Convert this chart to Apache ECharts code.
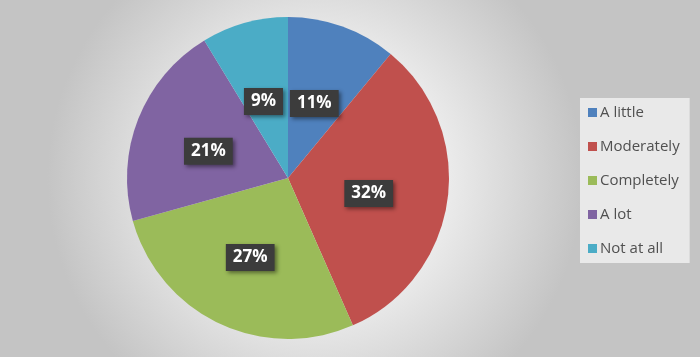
<!DOCTYPE html>
<html><head><meta charset="utf-8">
<script src="https://cdn.jsdelivr.net/npm/echarts@6/dist/echarts.min.js"></script>
<style>html,body{margin:0;padding:0;}#c{width:700px;height:357px;}</style>
</head><body><div id="c"></div>
<script>
const categories = ['A little', 'Moderately', 'Completely', 'A lot', 'Not at all'];
const values = [11, 32.4, 27.3, 20.6, 8.7];
const colors = ['#4F81BD', '#C0504D', '#9BBB59', '#8064A2', '#4BACC6'];

const chart = echarts.init(document.getElementById('c'));
chart.setOption({
  backgroundColor: {
    type: 'radial', x: 0.45, y: 0.5, r: 0.75,
    colorStops: [{offset: 0, color: '#f7f7f7'}, {offset: 0.5, color: '#ebebeb'}, {offset: 1, color: '#c4c4c4'}]
  },
  color: colors,
  legend: {
    orient: 'vertical',
    left: 580, top: 98,
    width: 113, height: 164,
    backgroundColor: '#e9e9e9',
    padding: [7, 10, 7, 8],
    itemWidth: 9, itemHeight: 9,
    itemGap: 19,
    icon: 'rect',
    textStyle: {fontFamily: 'Open Sans', fontSize: 15, color: '#505050', padding: [0, 0, 0, -2]},
    data: categories
  },
  series: [{
    type: 'pie',
    center: [288, 178],
    radius: [0, 161],
    startAngle: 90,
    clockwise: true,
    animation: false,
    data: categories.map((c, i) => ({name: c, value: values[i]})),
    itemStyle: {borderWidth: 0},
    label: {
      show: true,
      position: 'inside',
      offset: [-2, 4],
      formatter: p => Math.round(p.value) + '%',
      fontFamily: 'Open Sans',
      fontWeight: 'bold',
      fontSize: 17,
      color: '#ffffff',
      backgroundColor: '#3c3c3c',
      padding: [6, 7, 4, 7],
      shadowColor: 'rgba(0,0,0,0.45)',
      shadowBlur: 4,
      shadowOffsetX: 2,
      shadowOffsetY: 2
    },
    labelLine: {show: false},
    emphasis: {disabled: true}
  }]
});
</script></body></html>
